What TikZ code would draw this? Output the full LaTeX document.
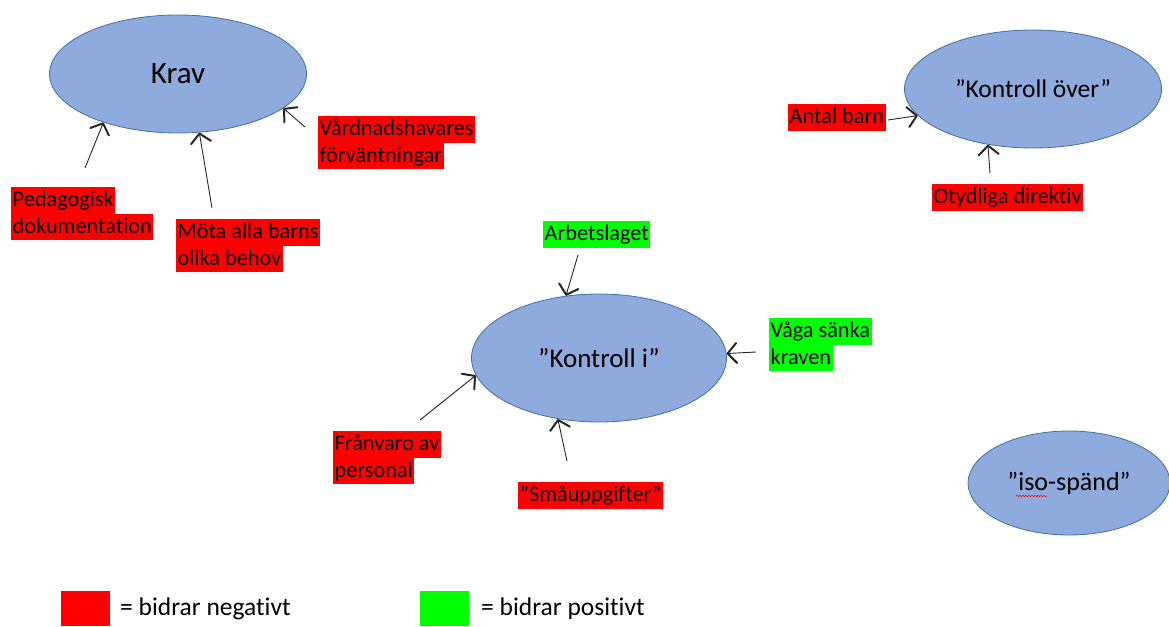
\documentclass[tikz,border=0pt]{standalone}
\usepackage{fontspec}
\setmainfont[Ligatures={NoCommon}]{Carlito}
\usetikzlibrary{shapes.geometric,arrows.meta,decorations.pathmorphing}
\definecolor{elfill}{HTML}{8FAADC}
\definecolor{eldraw}{HTML}{41719C}
\definecolor{neg}{HTML}{FF0000}
\definecolor{pos}{HTML}{00FF00}
\newcommand{\hlbox}[2]{{\setlength{\fboxsep}{0pt}\colorbox{#1}{\rule[-7pt]{0pt}{26.5pt}\hspace{1.5pt}#2\hspace{1.5pt}}}}
\tikzset{
  oval/.style={ellipse, draw=eldraw, line width=0.8pt, fill=elfill, inner sep=0pt},
  lbl/.style={anchor=north west, inner sep=0pt, align=left,
    font=\fontsize{22.3}{26.5}\selectfont},
  arr/.style={draw=black!85, line width=0.9pt,
    -{Straight Barb[length=9pt,width=20pt,line width=2pt,round]}},
  legsq/.style={anchor=north west, inner sep=0pt, minimum width=49pt, minimum height=35pt},
  legtxt/.style={anchor=west, inner sep=0pt, font=\fontsize{25.5}{30}\selectfont}
}
\begin{document}
\begin{tikzpicture}[x=1pt,y=-1pt]
\useasboundingbox (0,0) rectangle (1169,626);
% ellipses
\node[oval, minimum width=257pt, minimum height=118pt, font=\fontsize{31}{36}\selectfont] (krav) at (178,74) {Krav\hspace{12pt}};
\node[oval, minimum width=257pt, minimum height=118pt, font=\fontsize{25.5}{30}\selectfont] (over) at (1033,89) {”Kontroll över”};
\node[oval, minimum width=255pt, minimum height=128pt, font=\fontsize{27}{31}\selectfont] (kin) at (599,358) {”Kontroll i”};
\node[oval, minimum width=202pt, minimum height=104pt, font=\fontsize{26}{30}\selectfont] (iso) at (1069,483) {”iso-spänd”};
\draw[red, line width=0.5pt, decorate, decoration={snake, amplitude=0.8pt, segment length=3pt}] (1016,496) -- (1047,496);
% labels
\node[lbl] (ped) at (11,187) {\hlbox{neg}{Pedagogisk}\\ \hlbox{neg}{dokumentation}};
\node[lbl] (mota) at (176,219) {\hlbox{neg}{Möta alla barns}\\ \hlbox{neg}{olika behov}};
\node[lbl] (vard) at (318,116) {\hlbox{neg}{Vårdnadshavares}\\ \hlbox{neg}{förväntningar}};
\node[lbl] (antal) at (788,104) {\hlbox{neg}{Antal barn}};
\node[lbl] (otyd) at (932,184) {\hlbox{neg}{Otydliga direktiv}};
\node[lbl] (arb) at (543,221) {\hlbox{pos}{Arbetslaget}};
\node[lbl] (vaga) at (769,318) {\hlbox{pos}{Våga sänka}\\ \hlbox{pos}{kraven}};
\node[lbl] (fran) at (333,431) {\hlbox{neg}{Frånvaro av}\\ \hlbox{neg}{personal}};
\node[lbl] (sma) at (518,482) {\hlbox{neg}{”Småuppgifter”}};
% free ends of the connectors
\coordinate (pedS) at (85,168);
\coordinate (motaS) at (212,208);
\coordinate (vardS) at (305,127);
\coordinate (antalS) at (888,120);
\coordinate (otydS) at (990,173);
\coordinate (arbS) at (578,255);
\coordinate (vagaS) at (756,352);
\coordinate (franS) at (420,420);
\coordinate (smaS) at (567,461);
% connectors
\draw[arr] (pedS) -- (krav.213);
\draw[arr] (motaS) -- (krav.290);
\draw[arr] (vardS) -- (krav.342);
\draw[arr] (antalS) -- (over.193);
\draw[arr] (otydS) -- (over.231);
\draw[arr] (arbS) -- (kin.118);
\draw[arr] (vagaS) -- (kin.2);
\draw[arr] (franS) -- (kin.188);
\draw[arr] (smaS) -- (kin.236);
% legend
\node[legsq, fill=neg] (legneg) at (61,591) {};
\node[legtxt] (legnegtxt) at (120,609) {= bidrar negativt};
\node[legsq, fill=pos] (legpos) at (420,591) {};
\node[legtxt] (legpostxt) at (481,609) {= bidrar positivt};
\end{tikzpicture}
\end{document}
